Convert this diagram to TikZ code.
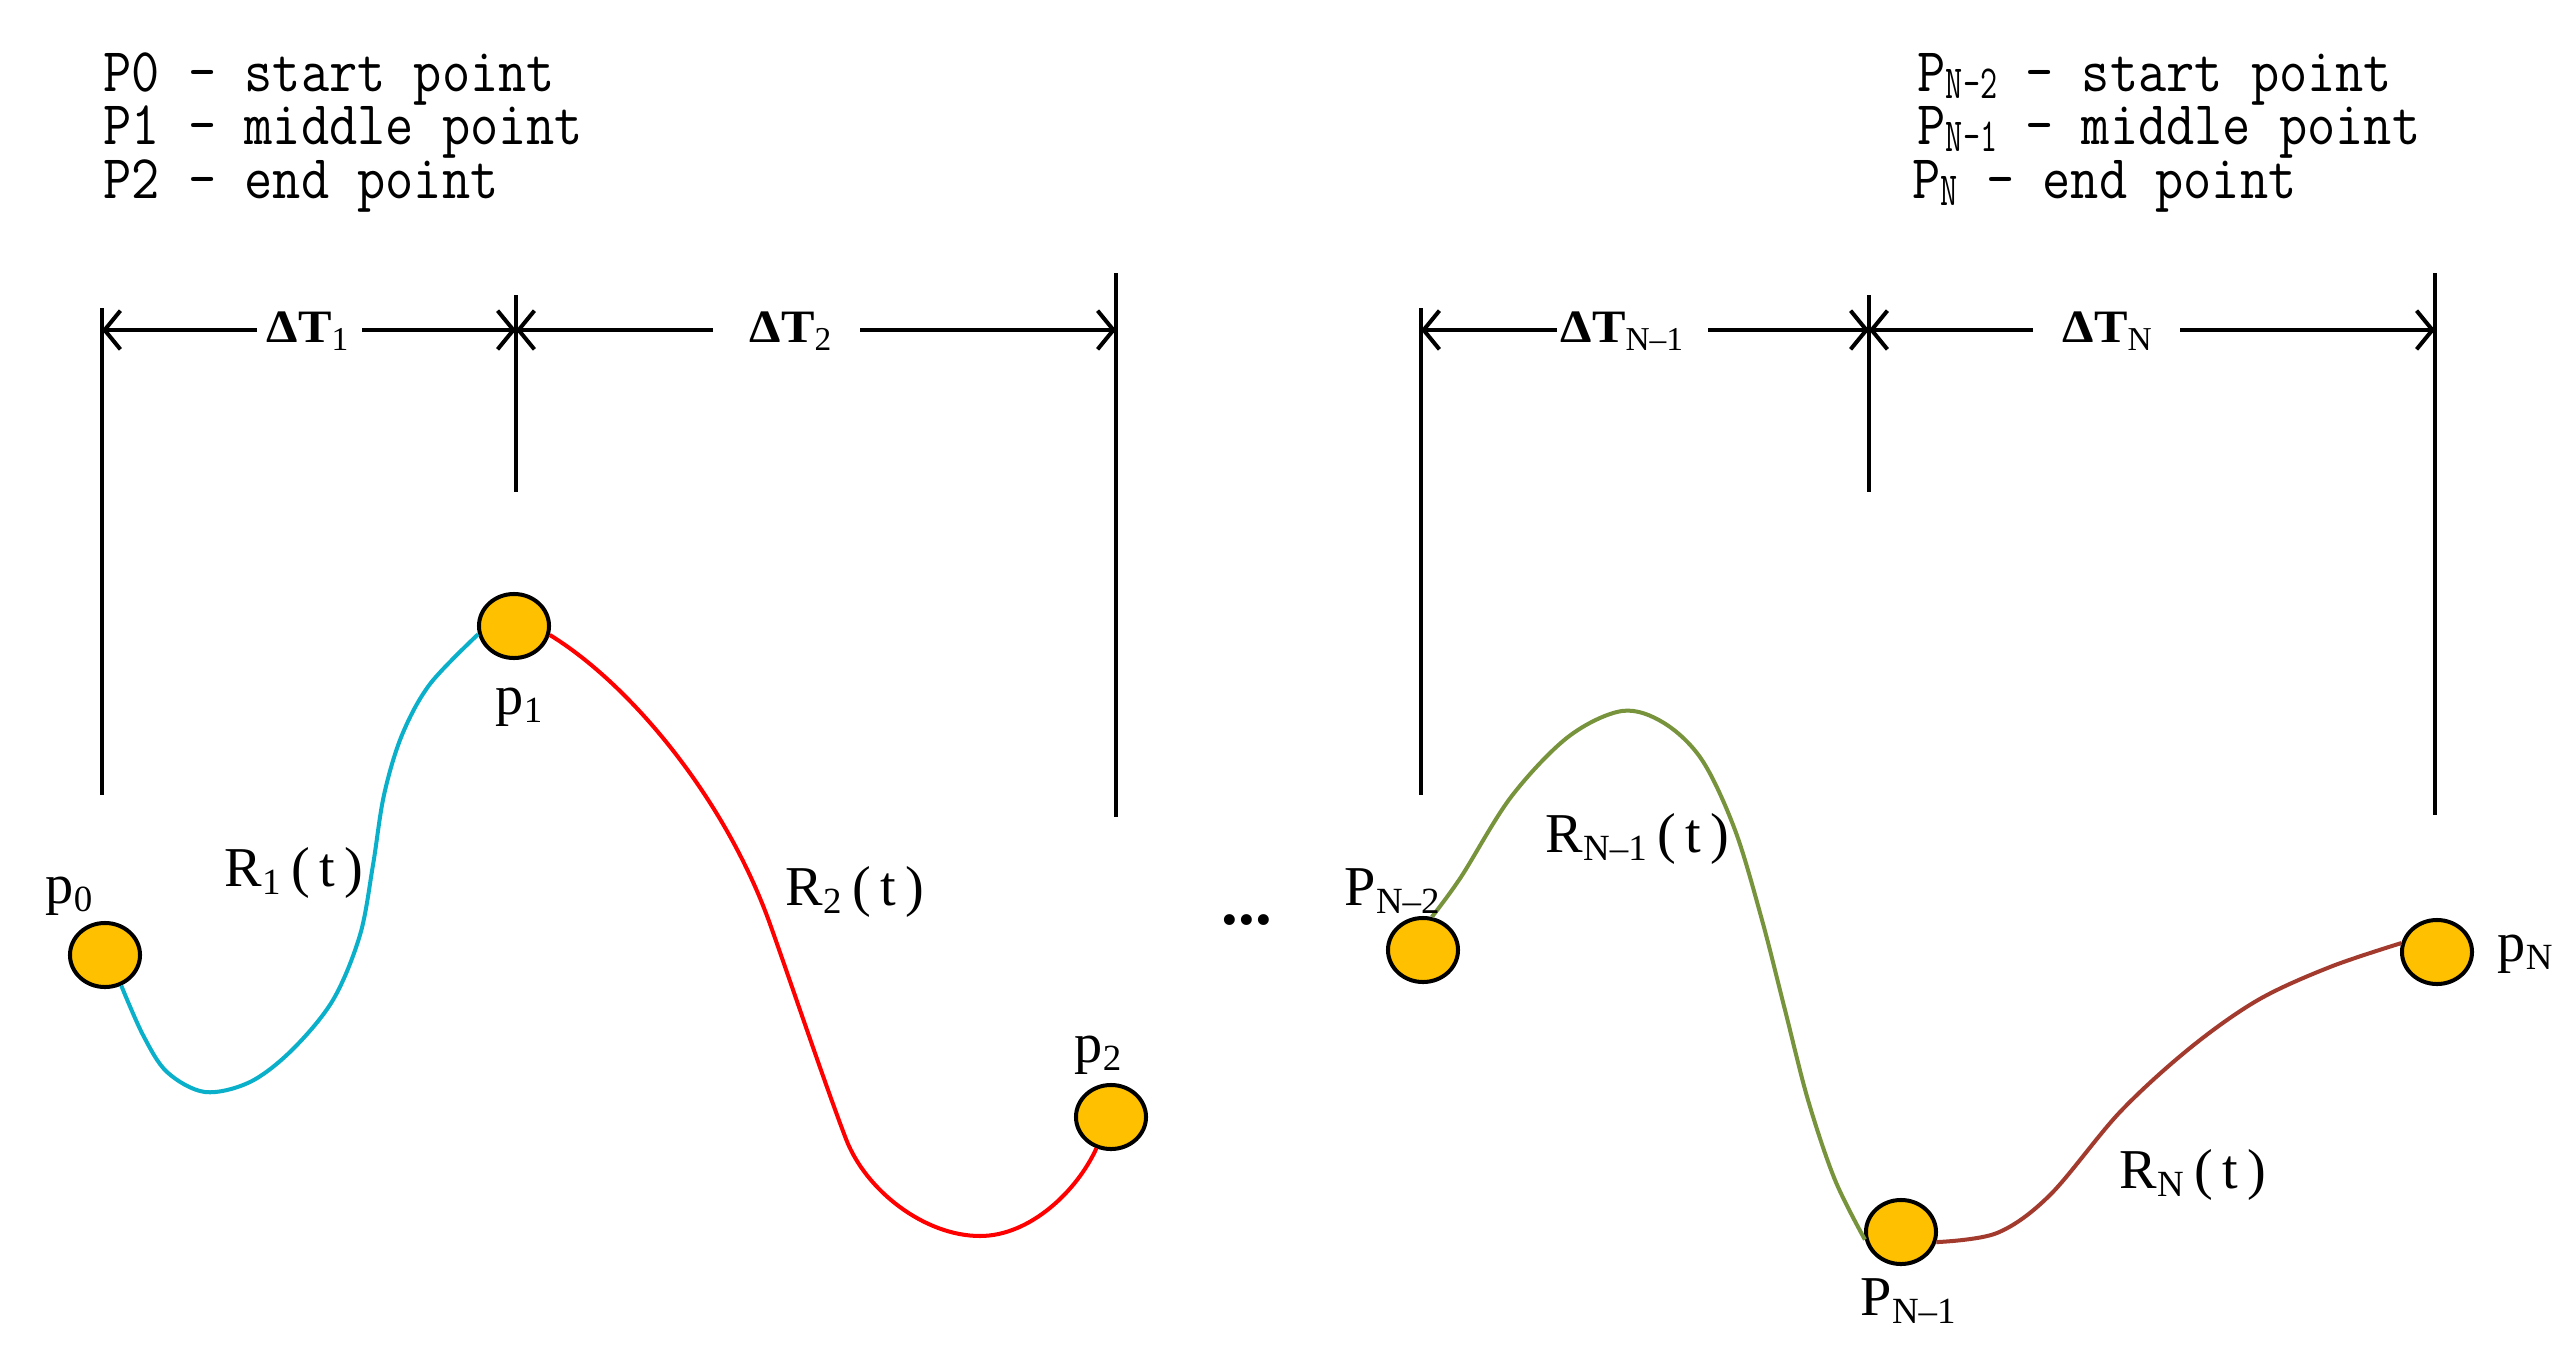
\documentclass[tikz,border=0pt]{standalone}
\usepackage{fontspec}
\setmainfont{Liberation Serif}
\newfontfamily\monof[FakeStretch=0.88]{Latin Modern Mono}
\newfontfamily\monosub[FakeStretch=0.7]{Latin Modern Mono}
\newfontfamily\dtfont[FakeStretch=1.08]{Liberation Serif}
\usetikzlibrary{arrows.meta,shapes.geometric}
\definecolor{ptyellow}{HTML}{FFC000}
\definecolor{curvecyan}{HTML}{0AAFC9}
\definecolor{curvered}{HTML}{FF0000}
\definecolor{curvegreen}{HTML}{77933C}
\definecolor{curvebrown}{HTML}{A23A2E}
\newcommand{\tsub}[1]{\raisebox{-2pt}{\monosub\fontsize{13.5}{14}\selectfont #1}}
\newcommand{\lsub}[1]{\raisebox{-2.5pt}{\fontsize{10.5}{12}\selectfont #1}}
\newcommand{\dsub}[1]{\raisebox{-2.5pt}{\rmfamily\mdseries\fontsize{9.5}{11}\selectfont #1}}
\tikzset{
  ptnode/.style={ellipse, draw=black, line width=1.14pt, fill=ptyellow,
    minimum width=0.70cm, minimum height=0.64cm, inner sep=0pt},
  toptext/.style={font=\monof\fontsize{17.7}{20}\selectfont, inner sep=0pt, anchor=base west,
    text height=11pt, text depth=3pt},
  lab/.style={font=\fontsize{16}{18}\selectfont, inner sep=0pt, anchor=base west},
  dtlab/.style={font=\dtfont\bfseries\fontsize{13.2}{14}\selectfont, inner sep=0pt, anchor=base west},
  vline/.style={line width=1.14pt},
  dimarrow/.style={line width=1.14pt, -{Straight Barb[length=4.5pt,width=11pt]}},
  curve/.style={line width=1.14pt},
  smoothcurve/.style={line width=1.14pt, smooth, tension=0.55}
}
\begin{document}
\begin{tikzpicture}[x=0.01cm, y=-0.01cm]
\useasboundingbox (0,0) rectangle (2571,1357);

% top texts
\node[toptext] (ta1) at (103,91) {P0 – start point};
\node[toptext] (ta2) at (103,144) {P1 – middle point};
\node[toptext] (ta3) at (103,198) {P2 – end point};
\node[toptext] (tb1) at (1917,91) {P\tsub{N–2} – start point};
\node[toptext] (tb2) at (1917,144) {P\tsub{N–1} – middle point};
\node[toptext] (tb3) at (1912,198) {P\tsub{N} – end point};

% vertical lines
\coordinate (a1t) at (102,308); \coordinate (a1b) at (102,795);
\coordinate (a2t) at (516,295); \coordinate (a2b) at (516,492);
\coordinate (a3t) at (1116,273); \coordinate (a3b) at (1116,817);
\coordinate (b1t) at (1421,308); \coordinate (b1b) at (1421,795);
\coordinate (b2t) at (1869,295); \coordinate (b2b) at (1869,492);
\coordinate (b3t) at (2435,273); \coordinate (b3b) at (2435,815);
\draw[vline] (a1t) -- (a1b);
\draw[vline] (a2t) -- (a2b);
\draw[vline] (a3t) -- (a3b);
\draw[vline] (b1t) -- (b1b);
\draw[vline] (b2t) -- (b2b);
\draw[vline] (b3t) -- (b3b);

% dimension labels
\node[dtlab] (dt1) at (266,342) {ΔT\dsub{1}};
\node[dtlab] (dt2) at (749,342) {ΔT\dsub{2}};
\node[dtlab] (dt3) at (1560,342) {ΔT\dsub{N–1}};
\node[dtlab] (dt4) at (2062,342) {ΔT\dsub{N}};
\coordinate (g1l) at (257,330); \coordinate (g1r) at (362,330);
\coordinate (g2l) at (713,330); \coordinate (g2r) at (860,330);
\coordinate (g3l) at (1557,330); \coordinate (g3r) at (1708,330);
\coordinate (g4l) at (2033,330); \coordinate (g4r) at (2180,330);
\draw[dimarrow] (g1l) -- (a1t |- g1l);
\draw[dimarrow] (g1r) -- (a2t |- g1r);
\draw[dimarrow] (g2l) -- (a2t |- g2l);
\draw[dimarrow] (g2r) -- (a3t |- g2r);
\draw[dimarrow] (g3l) -- (b1t |- g3l);
\draw[dimarrow] (g3r) -- (b2t |- g3r);
\draw[dimarrow] (g4l) -- (b2t |- g4l);
\draw[dimarrow] (g4r) -- (b3t |- g4r);

% points
\node[ptnode] (p0) at (105,955) {};
\node[ptnode] (p1) at (514,626) {};
\node[ptnode] (p2) at (1111,1117) {};
\node[ptnode] (q2) at (1423,950) {};
\node[ptnode] (q1) at (1901,1232) {};
\node[ptnode] (q0) at (2437,952) {};

% curves
\draw[smoothcurve, curvecyan] plot coordinates {(p0.-62) (143,1035) (167,1072) (205,1092) (250,1082) (292,1050) (333,1000) (360,935) (373,865) (384,795) (402,735) (430,684) (p1.193)};
\draw[curve, curvered] (p1.-14) .. controls (630,684) and (725,798) .. (770,924)
  .. controls (790,980) and (826,1087) .. (846,1139)
  .. controls (866,1191) and (925,1236) .. (980,1236)
  .. controls (1030,1236) and (1077,1191) .. (p2.245);
\draw[smoothcurve, curvegreen] plot coordinates {(q2.75) (1461,877) (1511,797) (1568,737) (1622,711) (1664,723) (1702,760) (1735,830) (1762,920) (1785,1010) (1808,1100) (1835,1180) (q1.192)};
\draw[smoothcurve, curvebrown] plot coordinates {(q1.-16) (1997,1233) (2050,1195) (2120,1112) (2190,1048) (2258,1000) (2330,967) (q0.166)};

% labels
\node[lab] (lp0) at (45,903) {p\lsub{0}};
\node[lab] (lp1) at (495,714) {p\lsub{1}};
\node[lab] (lp2) at (1074,1062) {p\lsub{2}};
\node[lab] (lq2) at (1344,905) {P\lsub{N–2}};
\node[lab] (lq1) at (1860,1315) {P\lsub{N–1}};
\node[lab] (lq0) at (2497,961) {p\lsub{N}};
\node[lab] (lr1) at (224,886) {R\lsub{1}\hspace{3pt}(\,t\,)};
\node[lab] (lr2) at (785,905) {R\lsub{2}\hspace{3pt}(\,t\,)};
\node[lab] (lr3) at (1545,852) {R\lsub{N–1}\hspace{3pt}(\,t\,)};
\node[lab] (lr4) at (2119,1188) {R\lsub{N}\hspace{3pt}(\,t\,)};
\node[font=\bfseries\fontsize{19}{20}\selectfont, inner sep=0pt, anchor=base] (dots) at (1247,924) {...};
\end{tikzpicture}
\end{document}
